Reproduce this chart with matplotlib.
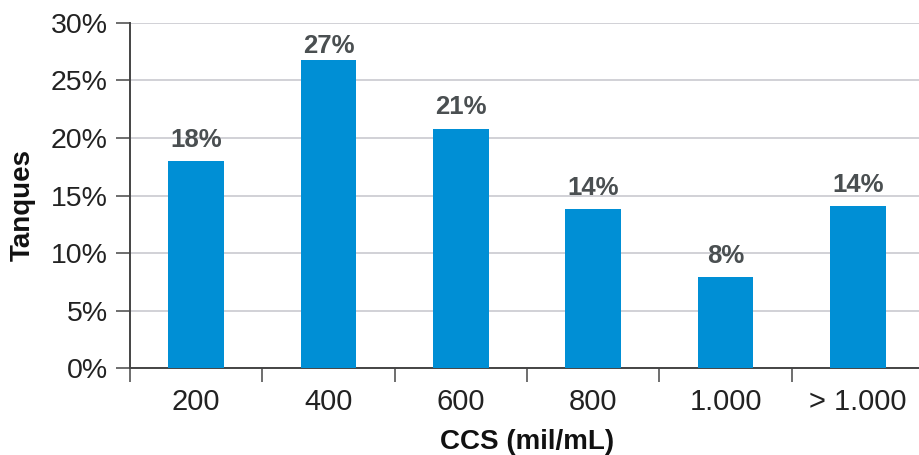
import matplotlib
matplotlib.use("Agg")
import matplotlib.pyplot as plt
import numpy as np

categories = ["200", "400", "600", "800", "1.000", "> 1.000"]
values = [18.0, 26.8, 20.8, 13.8, 7.9, 14.1]
yticks = [0, 5, 10, 15, 20, 25, 30]
ytick_labels = ["0%", "5%", "10%", "15%", "20%", "25%", "30%"]

plt.rcParams['font.family'] = ['Liberation Sans', 'DejaVu Sans']

fig = plt.figure(figsize=(9.19, 4.55), dpi=100)
ax = fig.add_axes([0.1415, 0.191, 0.864, 0.7585])

x = np.arange(len(categories))
ax.bar(x, values, width=0.42, color="#008fd5", zorder=3)
# labels sit above the bar, but are kept inside the plot area (as in the source chart)
for xi, v in zip(x, values):
    ax.text(xi, min(v + 1.25, 27.4), f"{round(v):d}%", ha="center", va="baseline",
            fontsize=18.5, fontweight="bold", color="#4a4f51", zorder=4)

ax.set_xlim(-0.5, len(categories) - 0.5)
ax.set_ylim(0, 30)
ax.set_yticks(yticks)
ax.set_yticklabels(ytick_labels)
ax.yaxis.grid(True, color="#c9c9cf", linewidth=1.2, zorder=0)
ax.set_axisbelow(True)

ax.set_xticks(np.arange(len(categories) + 1) - 0.5)
ax.set_xticklabels([])
ax.set_xticks(x, minor=True)
ax.set_xticklabels(categories, minor=True)
ax.tick_params(axis="x", which="minor", length=0, pad=14, labelsize=21, labelcolor="#222222")
ax.tick_params(axis="x", which="major", length=10, width=1.2, color="#555555", direction="out")
ax.tick_params(axis="y", length=10, width=1.2, color="#555555", labelsize=20.5, labelcolor="#222222", pad=6)

for s in ["top", "right"]:
    ax.spines[s].set_visible(False)
for s in ["left", "bottom"]:
    ax.spines[s].set_color("#444444")
    ax.spines[s].set_linewidth(1.4)

ax.set_ylabel("Tanques", fontsize=20, fontweight="bold", color="#111111", va="center")
ax.yaxis.set_label_coords(-0.135, 0.472)
ax.set_xlabel("CCS (mil/mL)", fontsize=20, fontweight="bold", color="#111111", labelpad=10)

fig.savefig("out.png", dpi=100)
